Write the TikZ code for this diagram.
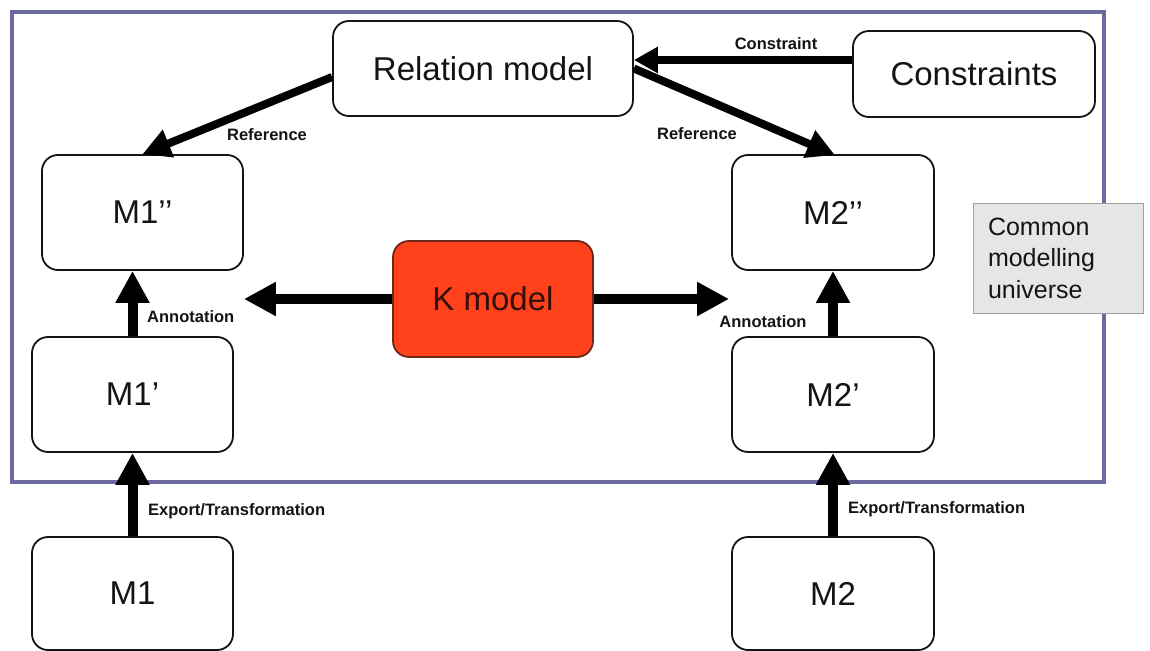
\documentclass[tikz,border=0pt]{standalone}
\usepackage{fontspec}
\setmainfont{Liberation Sans}
\usetikzlibrary{arrows.meta,calc}

\definecolor{framec}{RGB}{108,106,160}
\definecolor{kfill}{RGB}{255,66,28}
\definecolor{kdraw}{RGB}{110,40,25}
\definecolor{notefill}{RGB}{230,230,230}
\definecolor{notedraw}{RGB}{160,160,160}
\definecolor{ink}{RGB}{20,20,20}

\tikzset{
  model/.style={draw=ink, line width=1.8pt, rounded corners=16pt, fill=white,
    inner sep=0pt, text=ink, font=\fontsize{33}{40}\selectfont},
  kbox/.style={model, fill=kfill, draw=kdraw, text={rgb,255:red,50;green,15;blue,10}},
  lbl/.style={inner sep=0pt, font=\bfseries\fontsize{16.5}{19}\selectfont, text=ink},
  bigarrow/.style={line width=10pt, -{Triangle[width=32pt,length=32pt]}},
  midarrow/.style={line width=8pt, -{Triangle[width=28pt,length=28pt]}},
  smallarrow/.style={line width=8pt, -{Triangle[width=25pt,length=24pt]}},
}

\begin{document}
\begin{tikzpicture}[x=1pt, y=-1pt]
  \useasboundingbox (0,0) rectangle (1150,650);
  \clip (0,0) rectangle (1150,650);
  \fill[white] (0,0) rectangle (1150,650);

  % common modelling universe frame
  \draw[framec, line width=4pt] (12,12) rectangle (1104,482);

  \node[draw=notedraw, fill=notefill, line width=0.8pt, minimum width=170pt,
        minimum height=110pt, inner xsep=15pt, text width=140pt, align=left,
        font=\fontsize{25}{31.5}\selectfont, text=ink] (cmu) at (1058,258)
        {Common\\modelling\\universe};

  % models
  \node[model, minimum width=300pt, minimum height=95pt] (rel) at (483,68.5) {Relation model};
  \node[model, minimum width=242pt, minimum height=86pt] (cons) at (974,74) {Constraints};
  \node[model, minimum width=201pt, minimum height=115pt] (m1pp) at (142.5,212.5) {M1’’};
  \node[model, minimum width=202pt, minimum height=115pt] (m2pp) at (833,212.5) {M2’’};
  \node[kbox, minimum width=200pt, minimum height=116pt] (k) at (493,299) {K model};
  \node[model, minimum width=201pt, minimum height=115pt] (m1p) at (132.5,394.5) {M1’};
  \node[model, minimum width=202pt, minimum height=115pt] (m2p) at (833,394.5) {M2’};
  \node[model, minimum width=201pt, minimum height=113pt] (m1) at (132.5,593.5) {M1};
  \node[model, minimum width=202pt, minimum height=113pt] (m2) at (833,593.5) {M2};

  % helper points
  \coordinate (cy) at (0,60);
  \coordinate (kl) at (m1pp.east |- k);
  \coordinate (kr) at ($(m2pp.west |- k)+(-2,0)$);

  % connectors
  \draw[smallarrow] (cons.west |- cy) -- (rel.east |- cy);
  \draw[midarrow] ($(rel.west)+(0,8.5)$) -- (m1pp.north);
  \draw[midarrow] (rel.east) -- ($(m2pp.north)+(2,1)$);
  \draw[bigarrow] (k.west) -- (kl);
  \draw[bigarrow] (k.east) -- (kr);
  \draw[bigarrow] (m1p.north) -- (m1p.north |- m1pp.south);
  \draw[bigarrow] (m2p.north) -- (m2pp.south);
  \draw[bigarrow] (m1.north) -- (m1p.south);
  \draw[bigarrow] (m2.north) -- (m2p.south);

  % connector labels
  \node[lbl] (lcons) at (776,44) {Constraint};
  \node[lbl] (lref1) at (267,135) {Reference};
  \node[lbl] (lref2) at (697,134) {Reference};
  \node[lbl, anchor=west] (lann1) at (147,317) {Annotation};
  \node[lbl] (lann2) at (763,322) {Annotation};
  \node[lbl, anchor=west] (lexp1) at (148,511) {Export/Transformation};
  \node[lbl, anchor=west] (lexp2) at (848,509) {Export/Transformation};
\end{tikzpicture}
\end{document}
